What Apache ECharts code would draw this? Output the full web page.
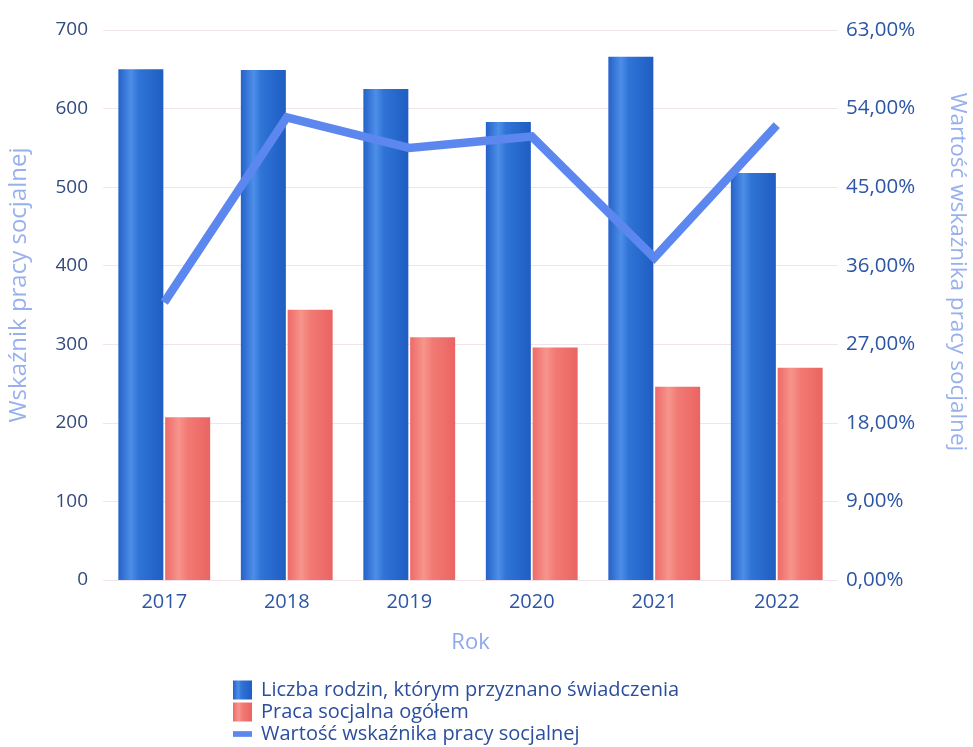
<!DOCTYPE html>
<html>
<head>
<meta charset="utf-8">
<script src="https://cdn.jsdelivr.net/npm/echarts@6/dist/echarts.min.js"></script>
<style>html,body{margin:0;padding:0;background:#fff;}#c{width:973px;height:747px;}</style>
</head>
<body>
<div id="c"></div>
<script>
const years = ['2017', '2018', '2019', '2020', '2021', '2022'];
const rodziny = [650, 649, 625, 583, 666, 518];
const pracaSocjalna = [207, 344, 309, 296, 246, 270];
const wskaznik = [31.8, 53.0, 49.5, 50.8, 36.9, 52.1];
const leftTicks = { min: 0, max: 700, interval: 100 };
const rightTicks = { min: 0, max: 63, interval: 9 };

const chart = echarts.init(document.getElementById('c'));
const font = 'Open Sans';
const blueGrad = new echarts.graphic.LinearGradient(0, 0, 1, 0, [
  { offset: 0, color: '#2462c8' },
  { offset: 0.28, color: '#4d8ee8' },
  { offset: 0.45, color: '#2f74d6' },
  { offset: 1, color: '#1f5dc2' }
]);
const redGrad = new echarts.graphic.LinearGradient(0, 0, 1, 0, [
  { offset: 0, color: '#ee6a68' },
  { offset: 0.3, color: '#f6958c' },
  { offset: 0.5, color: '#f27a74' },
  { offset: 1, color: '#ea6462' }
]);
chart.setOption({
  backgroundColor: '#ffffff',
  animation: false,
  textStyle: { fontFamily: font },
  grid: { left: 103, right: 135, top: 30, bottom: 167, containLabel: false, outerBoundsMode: 'none' },
  legend: {
    orient: 'vertical',
    left: 233,
    top: 680,
    itemGap: 2,
    itemWidth: 19,
    itemHeight: 19,
    padding: 0,
    textStyle: { fontSize: 20, lineHeight: 20, color: '#2b4f9e', fontFamily: font, padding: [0, 0, 0, 4] },
    data: [
      { name: 'Liczba rodzin, którym przyznano świadczenia', icon: 'rect' },
      { name: 'Praca socjalna ogółem', icon: 'rect' },
      { name: 'Wartość wskaźnika pracy socjalnej', icon: 'path://M0,0h20v6h-20z' }
    ]
  },
  xAxis: {
    type: 'category',
    data: years,
    name: 'Rok',
    nameLocation: 'middle',
    nameGap: 52,
    nameTextStyle: { fontSize: 22, color: '#8ea8ec' },
    axisLine: { show: false },
    axisTick: { show: false },
    axisLabel: { fontSize: 20, color: '#2d57a6', margin: 12 }
  },
  yAxis: [
    {
      type: 'value',
      min: leftTicks.min, max: leftTicks.max, interval: leftTicks.interval,
      name: 'Wskaźnik pracy socjalnej',
      nameLocation: 'middle',
      nameRotate: 90,
      nameGap: 72,
      nameTextStyle: { fontSize: 24, color: '#98b0ee', padding: [0, 0, 0, 40] },
      axisLine: { show: false },
      axisTick: { show: false },
      axisLabel: { fontSize: 19, color: '#334a7e', margin: 15 },
      splitLine: { lineStyle: { color: '#f2e4ea', width: 1 } }
    },
    {
      type: 'value',
      min: rightTicks.min, max: rightTicks.max, interval: rightTicks.interval,
      name: 'Wartość wskaźnika pracy socjalnej',
      nameLocation: 'middle',
      nameRotate: -90,
      nameGap: 108,
      nameTextStyle: { fontSize: 22.5, color: '#98b0ee', padding: [0, 66, 0, 0] },
      axisLine: { show: false },
      axisTick: { show: false },
      axisLabel: {
        fontSize: 20.5, color: '#2c55a6', margin: 8,
        formatter: v => v.toFixed(2).replace('.', ',') + '%'
      },
      splitLine: { show: false }
    }
  ],
  series: [
    {
      name: 'Liczba rodzin, którym przyznano świadczenia',
      type: 'bar',
      data: rodziny,
      barWidth: 45,
      barGap: '4%',
      itemStyle: { color: blueGrad }
    },
    {
      name: 'Praca socjalna ogółem',
      type: 'bar',
      data: pracaSocjalna,
      barWidth: 45,
      barGap: '4%',
      itemStyle: { color: redGrad }
    },
    {
      name: 'Wartość wskaźnika pracy socjalnej',
      type: 'line',
      yAxisIndex: 1,
      data: wskaznik,
      showSymbol: false,
      symbol: 'none',
      lineStyle: { color: '#5b87ee', width: 8.5, join: 'miter' },
      itemStyle: { color: '#5b87ee' }
    }
  ]
});
</script>
</body>
</html>
